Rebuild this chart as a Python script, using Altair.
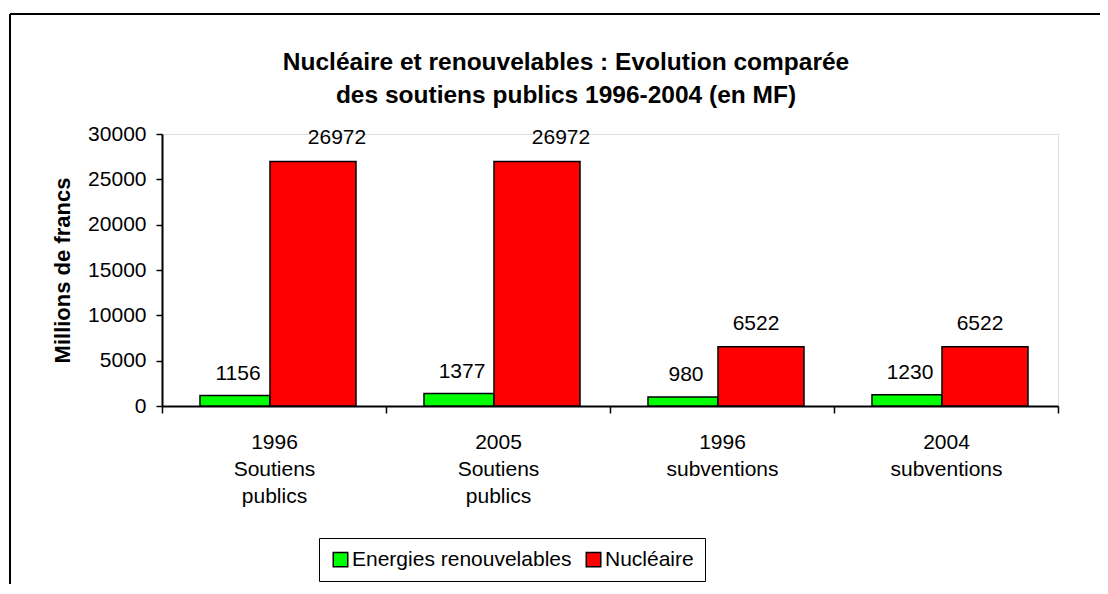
import altair as alt
import pandas as pd

categories = ["1996|Soutiens|publics", "2005|Soutiens|publics", "1996|subventions", "2004|subventions"]
series = ["Energies renouvelables", "Nucléaire"]
renouvelables = [1156, 1377, 980, 1230]
nucleaire = [26972, 26972, 6522, 6522]
colors = ["#00FF00", "#FF0000"]
y_ticks = [0, 5000, 10000, 15000, 20000, 25000, 30000]
title_lines = ["Nucléaire et renouvelables : Evolution comparée",
               "des soutiens publics 1996-2004 (en MF)"]

rows = []
for c, r, n in zip(categories, renouvelables, nucleaire):
    rows.append({"cat": c, "series": series[0], "value": r})
    rows.append({"cat": c, "series": series[1], "value": n})
df = pd.DataFrame(rows)

FONT = "Liberation Sans"

x_enc = alt.X(
    "cat:N", sort=categories, title=None,
    scale=alt.Scale(paddingInner=0, paddingOuter=0),
    axis=alt.Axis(
        labelExpr="split(datum.label, '|')", labelAngle=0,
        labelFont=FONT, labelFontSize=21, labelColor="black",
        labelLineHeight=27, labelPadding=18,
        tickBand="extent", tickSize=7, tickColor="black", tickWidth=1.5,
        domainColor="black", domainWidth=2, grid=False,
    ),
)
xo_enc = alt.XOffset("series:N", sort=series, scale=alt.Scale(paddingInner=0, paddingOuter=0.436))
y_enc = alt.Y(
    "value:Q",
    scale=alt.Scale(domain=[0, 30000], nice=False),
    axis=alt.Axis(
        values=y_ticks, format="d", title="Millions de francs", grid=False,
        labelFont=FONT, labelFontSize=21, labelColor="black", labelPadding=10,
        tickSize=6, tickColor="black", tickWidth=1.5,
        domainColor="black", domainWidth=2,
        titleFont=FONT, titleFontSize=22, titleFontWeight="bold", titleColor="black",
        titleX=-100, titleY=136, titleAngle=270, titleAlign="center", titleBaseline="middle",
    ),
)
color_enc = alt.Color(
    "series:N", sort=series,
    scale=alt.Scale(domain=series, range=colors),
    legend=alt.Legend(
        title=None, orient="none", legendX=157, legendY=404, direction="horizontal",
        symbolType="square", symbolSize=210, symbolStrokeColor="black", symbolStrokeWidth=1.5,
        symbolOpacity=1, labelLimit=400,
        labelFont=FONT, labelFontSize=21, labelColor="black", labelOffset=1,
        columnPadding=11, padding=11, strokeColor="black", fillColor="white",
    ),
)

base = alt.Chart(df).encode(x=x_enc, xOffset=xo_enc, y=y_enc)

bar_g = base.transform_filter(alt.datum.series == series[0]).mark_bar(
    width=70, xOffset=-4, stroke="black", strokeWidth=1.5, opacity=1
).encode(color=color_enc)
bar_r = base.transform_filter(alt.datum.series == series[1]).mark_bar(
    width=86, xOffset=-4, stroke="black", strokeWidth=1.5, opacity=1
).encode(color=color_enc)

txt_g = base.transform_filter(alt.datum.series == series[0]).mark_text(
    font=FONT, fontSize=21, color="black", baseline="alphabetic", dy=-16, dx=3
).encode(text="value:Q")
txt_r_low = base.transform_filter(
    (alt.datum.series == series[1]) & (alt.datum.value < 20000)
).mark_text(
    font=FONT, fontSize=21, color="black", baseline="alphabetic", dy=-17, dx=-5
).encode(text="value:Q")
txt_r_high = base.transform_filter(
    (alt.datum.series == series[1]) & (alt.datum.value >= 20000)
).mark_text(
    font=FONT, fontSize=21, color="black", baseline="alphabetic", dy=-17, dx=24
).encode(text="value:Q")

one = pd.DataFrame({"k": [0]})
border_top = alt.Chart(one).mark_rule(color="black", strokeWidth=2).encode(
    x=alt.value(-152), x2=alt.value(938), y=alt.value(-120)
)
border_left = alt.Chart(one).mark_rule(color="black", strokeWidth=2).encode(
    x=alt.value(-152), y=alt.value(-120), y2=alt.value(450)
)
title_txt = alt.Chart(one).mark_text(
    font=FONT, fontSize=24.5, fontWeight="bold", color="black",
    align="center", baseline="alphabetic", lineHeight=33,
).encode(
    x=alt.value(404), y=alt.value(-64), text=alt.value(title_lines)
)

chart = alt.layer(
    bar_g, bar_r, txt_g, txt_r_low, txt_r_high, border_top, border_left, title_txt
).properties(
    width=896, height=272,
    autosize=alt.AutoSizeParams(type="none"),
    padding={"left": 154, "top": 126, "right": 42, "bottom": 178},
).configure_view(
    fill="#E0E0E0", stroke="#999999", strokeWidth=2
).configure(background="white")

chart.save("out.html", embed_options={"renderer": "svg", "actions": False})
